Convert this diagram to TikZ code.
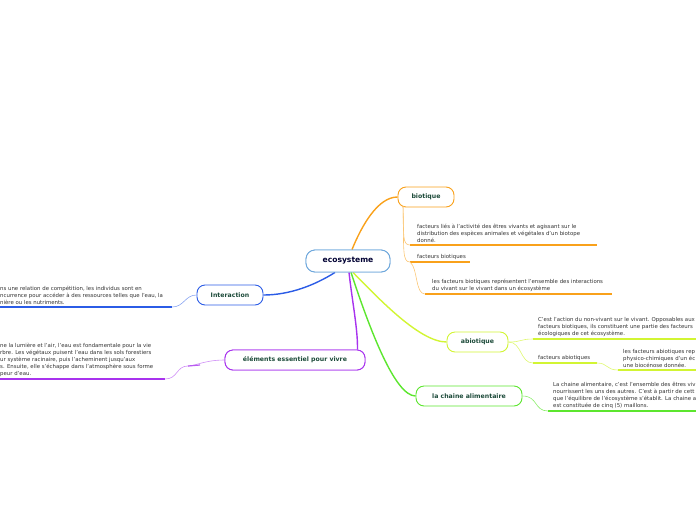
\documentclass[tikz,border=0pt]{standalone}
\usepackage{fontspec}
\setmainfont{DejaVu Sans}
\definecolor{corg}{HTML}{F9A11B}
\definecolor{cyel}{HTML}{D2F533}
\definecolor{cgrn}{HTML}{5CE62E}
\definecolor{cblu}{HTML}{2B5CE6}
\definecolor{cpur}{HTML}{A833EE}
\definecolor{cmain}{HTML}{6FA8DC}
\definecolor{ctxt}{HTML}{1D4B3A}
\definecolor{cbody}{HTML}{333333}
\tikzset{
  topic/.style={draw, rounded corners=8pt, fill=white, line width=0.9pt, text=ctxt,
    font=\fontsize{6.2}{7}\selectfont\bfseries, minimum height=20pt, inner xsep=8pt},
  body/.style={anchor=south west, inner sep=0pt, align=left, text=cbody,
    font=\fontsize{5.4}{7}\selectfont},
  branch/.style={line width=1.4pt},
  twig/.style={line width=0.6pt},
  uline/.style={line width=1.3pt}
}
\begin{document}
\begin{tikzpicture}[x=1pt,y=-1pt]
\useasboundingbox (0,0) rectangle (696,520);
\clip (0,0) rectangle (696,520);
% main topic
\node[topic, draw=cmain, text=black!80!blue, font=\fontsize{7.6}{8}\selectfont\bfseries,
  minimum width=84pt, minimum height=22pt, rounded corners=9pt] (eco) at (348,261) {ecosysteme};
% subtopics
\node[topic, draw=corg, minimum width=56pt] (bio) at (426,197) {biotique};
\node[topic, draw=cyel, minimum width=61pt] (abio) at (477.5,342) {abiotique};
\node[topic, draw=cgrn, minimum width=106pt] (chain) at (469,396) {la chaine alimentaire};
\node[topic, draw=cblu, minimum width=66pt] (inter) at (230,295) {Interaction};
\node[topic, draw=cpur, minimum width=140pt] (elem) at (295,360) {éléments essentiel pour vivre};
% branches from centre
\draw[branch, corg] (eco.north) ++(4,0) coordinate (eb) .. controls (362,225) and (378,197) .. (bio.west);
\draw[branch, cblu] (eco.south) ++(-13,0) coordinate (ei) .. controls (315,285) and (290,295) .. (inter.east);
\draw[branch, cpur] (eco.south) ++(1,0) coordinate (ep) .. controls (352,300) and (358,330) .. ([xshift=-8pt]elem.north east);
\draw[branch, cyel] (eco.south) ++(5,0) coordinate (ey) .. controls (380,300) and (420,342) .. (abio.west);
\draw[branch, cgrn] (eco.south) ++(3,0) coordinate (eg) .. controls (370,330) and (395,396) .. (chain.west);
% biotique texts
\coordinate (b1s) at (410,245); \coordinate (b1e) at (597,245);
\coordinate (b2s) at (410,262); \coordinate (b2e) at (470,262);
\coordinate (b3s) at (425,294); \coordinate (b3e) at (612,294);
\node[body] (bt1) at (417,243) {facteurs liés à l'activité des êtres vivants et agissant sur le\\distribution des espèces animales et végétales d'un biotope\\donné.};
\node[body] (bt2) at (417,260) {facteurs biotiques};
\node[body] (bt3) at (432,292) {les facteurs biotiques représentent l'ensemble des interactions\\du vivant sur le vivant dans un écosystème};
\draw[uline, corg] (b1s) -- (b1e);
\draw[uline, corg] (b2s) -- (b2e);
\draw[uline, corg] (b3s) -- (b3e);
\coordinate (bsrc) at (403,206);
\draw[twig, corg!60] (bsrc) .. controls (404,235) and (402,245) .. (b1s);
\draw[twig, corg!60] (bsrc) .. controls (404,250) and (402,262) .. (b2s);
\draw[twig, corg!60] (b2s) .. controls (418,268) and (415,294) .. (b3s);
% abiotique texts
\coordinate (a1s) at (533,339); \coordinate (a1e) at (696,339);
\coordinate (a2s) at (533,363); \coordinate (a2e) at (597,363);
\coordinate (a3s) at (618,370); \coordinate (a3e) at (696,370);
\node[body] (at1) at (538,337) {C'est l'action du non-vivant sur le vivant. Opposables aux\\facteurs biotiques, ils constituent une partie des facteurs\\écologiques de cet écosystème.};
\node[body] (at2) at (538,361) {facteurs abiotiques};
\node[body] (at3) at (623,368) {les facteurs abiotiques rep\\physico-chimiques d'un éc\\une biocénose donnée.};
\draw[uline, cyel] (a1s) -- (a1e);
\draw[uline, cyel] (a2s) -- (a2e);
\draw[uline, cyel] (a3s) -- (a3e);
\draw[twig, cyel!70] (abio.east) .. controls (522,342) and (520,339) .. (a1s);
\draw[twig, cyel!70] (abio.east) .. controls (522,342) and (520,363) .. (a2s);
\draw[twig, cyel!70] (a2e) .. controls (608,363) and (606,370) .. (a3s);
% chaine alimentaire text
\coordinate (c1s) at (548,411); \coordinate (c1e) at (696,411);
\node[body] (ct1) at (553,409) {La chaine alimentaire, c'est l'ensemble des êtres viv\\nourrissent les uns des autres. C'est à partir de cett\\que l'équilibre de l'écosystème s'établit. La chaine a\\est constituée de cinq (5) maillons.};
\draw[uline, cgrn] (c1s) -- (c1e);
\draw[twig, cgrn!70] (chain.east) .. controls (538,396) and (534,411) .. (c1s);
% interaction text
\coordinate (i1s) at (0,307); \coordinate (i1e) at (172,307);
\node[body] (it1) at (0,305) {ns une relation de compétition, les individus sont en\\ncurrence pour accéder à des ressources telles que l'eau, la\\nière ou les nutriments.};
\draw[uline, cblu] (i1s) -- (i1e);
\draw[twig, cblu!55] (inter.west) .. controls (185,295) and (184,307) .. (i1e);
% elements text
\coordinate (p1s) at (0,379); \coordinate (p1e) at (165,379);
\node[body] (pt1) at (0,377) {ne la lumière et l'air, l'eau est fondamentale pour la vie\\rbre. Les végétaux puisent l'eau dans les sols forestiers\\ur système racinaire, puis l'acheminent jusqu'aux\\s. Ensuite, elle s'échappe dans l'atmosphère sous forme\\peur d'eau.};
\draw[uline, cpur] (p1s) -- (p1e);
\draw[twig, cpur!55] (elem.west) .. controls (205,360) and (195,366) .. (188,366) .. controls (176,366) and (178,379) .. (p1e);
\draw[line width=1.2pt, cpur!80] (188,366) -- (200,365);
% redraw nodes on top
\node[topic, draw=cmain, text=black!80!blue, font=\fontsize{7.6}{8}\selectfont\bfseries,
  minimum width=84pt, minimum height=22pt, rounded corners=9pt] at (348,261) {ecosysteme};
\node[topic, draw=cpur, minimum width=140pt] at (295,360) {éléments essentiel pour vivre};
\end{tikzpicture}
\end{document}
